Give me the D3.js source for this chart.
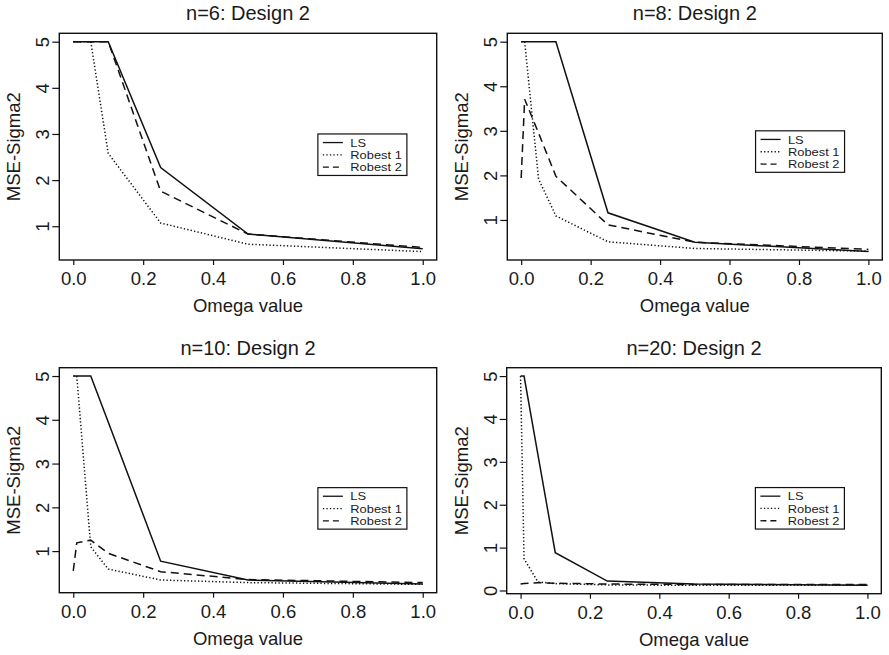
<!DOCTYPE html>
<html>
<head>
<meta charset="utf-8">
<script src="https://cdn.jsdelivr.net/npm/d3@7"></script>
<style>
  body { margin: 0; background: #fff; }
  svg { display: block; font-family: "Liberation Sans", Arial, Helvetica, sans-serif; }
  .box { fill: none; stroke: #111; stroke-width: 1.4; }
  .series { fill: none; stroke: #111; stroke-width: 1.5; }
</style>
</head>
<body>
<div id="chart"></div>
<script>
// omega values on the x axis (same for every panel)
var omega = [0, 0.01, 0.05, 0.1, 0.25, 0.5, 1.0];
var xTicks = [0, 0.2, 0.4, 0.6, 0.8, 1.0];
var seriesNames = ["LS", "Robest 1", "Robest 2"];
var panelTitles = ["n=6: Design 2", "n=8: Design 2", "n=10: Design 2", "n=20: Design 2"];

// MSE-Sigma2 per panel (n=6, n=8, n=10, n=20)
var ls = [
  [5, 5, 5, 5, 2.27, 0.83, 0.51],
  [5, 5, 5, 5, 1.16, 0.5, 0.29],
  [5, 5, 5, 3.95, 0.77, 0.34, 0.25],
  [5, 5, 3.17, 0.88, 0.22, 0.15, 0.12]
];
var robest1 = [
  [5, 5, 5, 2.58, 1.07, 0.61, 0.45],
  [5, 5, 1.92, 1.09, 0.51, 0.36, 0.3],
  [5, 5, 1.1, 0.59, 0.34, 0.28, 0.24],
  [5, 0.74, 0.2, 0.16, 0.13, 0.12, 0.12]
];
var robest2 = [
  [5, 5, 5, 5, 1.76, 0.83, 0.54],
  [1.94, 3.71, 2.95, 1.98, 0.89, 0.5, 0.34],
  [0.55, 1.19, 1.25, 0.95, 0.53, 0.35, 0.28],
  [0.15, 0.16, 0.18, 0.17, 0.15, 0.14, 0.14]
];

var width = 889, height = 655;
// plot boxes of the four panels
var boxes = [
  { x: 59.3, y: 33.3, w: 377.4, h: 226.7 },
  { x: 507.3, y: 33.3, w: 375, h: 226.7 },
  { x: 59.3, y: 367.7, w: 377.4, h: 225 },
  { x: 506.7, y: 367.7, w: 374.6, h: 226 }
];
// legend top-left corner in data units
var legendAt = [[0.7, 3], [0.675, 3], [0.7, 2.45], [0.677, 2.4]];
var dashes = [null, "1.3,2.2", "8,5"];

var svg = d3.select("#chart").append("svg")
    .attr("width", width)
    .attr("height", height);

panelTitles.forEach(function (title, i) {
  var b = boxes[i];
  var g = svg.append("g")
      .attr("transform", "translate(" + b.x + "," + b.y + ")");

  var data = [ls[i], robest1[i], robest2[i]];
  var ext = d3.extent(d3.merge(data));
  var pad = (ext[1] - ext[0]) * 0.04;

  var x = d3.scaleLinear().domain([-0.04, 1.04]).range([0, b.w]);
  var y = d3.scaleLinear().domain([ext[0] - pad, ext[1] + pad]).range([b.h, 0]);

  // x axis
  var xa = g.append("g")
      .attr("transform", "translate(0," + b.h + ")")
      .call(d3.axisBottom(x).tickValues(xTicks).tickFormat(d3.format(".1f")).tickSize(5).tickPadding(7));
  xa.select(".domain").remove();
  xa.selectAll("line").attr("stroke", "#111").attr("stroke-width", 1.2);
  xa.selectAll("text").attr("fill", "#1a1a1a").style("font-size", "18.5px");

  // y axis with labels parallel to the axis
  var ya = g.append("g")
      .call(d3.axisLeft(y).ticks(5).tickFormat(d3.format("d")).tickSize(7));
  ya.select(".domain").remove();
  ya.selectAll("line").attr("stroke", "#111").attr("stroke-width", 1.2);
  ya.selectAll("text")
      .attr("x", null)
      .attr("dy", null)
      .attr("text-anchor", "middle")
      .attr("transform", "translate(-10,0) rotate(-90)")
      .attr("fill", "#1a1a1a")
      .style("font-size", "18.5px");

  g.append("rect")
      .attr("class", "box")
      .attr("width", b.w)
      .attr("height", b.h);

  var line = d3.line()
      .x(function (d, j) { return x(omega[j]); })
      .y(function (d) { return y(d); });

  g.selectAll(".series")
      .data(data)
      .enter().append("path")
      .attr("class", "series")
      .attr("d", line)
      .attr("stroke-dasharray", function (d, k) { return dashes[k]; });

  // titles
  g.append("text")
      .attr("x", b.w / 2)
      .attr("y", -13)
      .attr("text-anchor", "middle")
      .attr("fill", "#1a1a1a")
      .style("font-size", "20px")
      .text(title);

  g.append("text")
      .attr("x", b.w / 2)
      .attr("y", b.h + 52)
      .attr("text-anchor", "middle")
      .attr("fill", "#1a1a1a")
      .style("font-size", "18.5px")
      .text("Omega value");

  g.append("text")
      .attr("transform", "translate(-39," + (b.h / 2) + ") rotate(-90)")
      .attr("text-anchor", "middle")
      .attr("fill", "#1a1a1a")
      .style("font-size", "18.5px")
      .text("MSE-Sigma2");

  // legend
  var lg = g.append("g")
      .attr("transform", "translate(" + x(legendAt[i][0]) + "," + y(legendAt[i][1]) + ")");
  lg.append("rect")
      .attr("width", 89)
      .attr("height", 41.5)
      .attr("fill", "#fff")
      .attr("stroke", "#111")
      .attr("stroke-width", 1.2);
  var item = lg.selectAll(".item")
      .data(seriesNames)
      .enter().append("g")
      .attr("class", "item")
      .attr("transform", function (d, k) { return "translate(0," + (8.6 + k * 12.3) + ")"; });
  item.append("line")
      .attr("x1", 5)
      .attr("x2", 25)
      .attr("stroke", "#111")
      .attr("stroke-width", 1.3)
      .attr("stroke-dasharray", function (d, k) { return k == 2 ? "6,4" : dashes[k]; });
  item.append("text")
      .attr("transform", "translate(32.4,4.2) scale(1.17,1)")
      .attr("fill", "#1a1a1a")
      .style("font-size", "11px")
      .text(function (d) { return d; });
});
</script>
</body>
</html>
